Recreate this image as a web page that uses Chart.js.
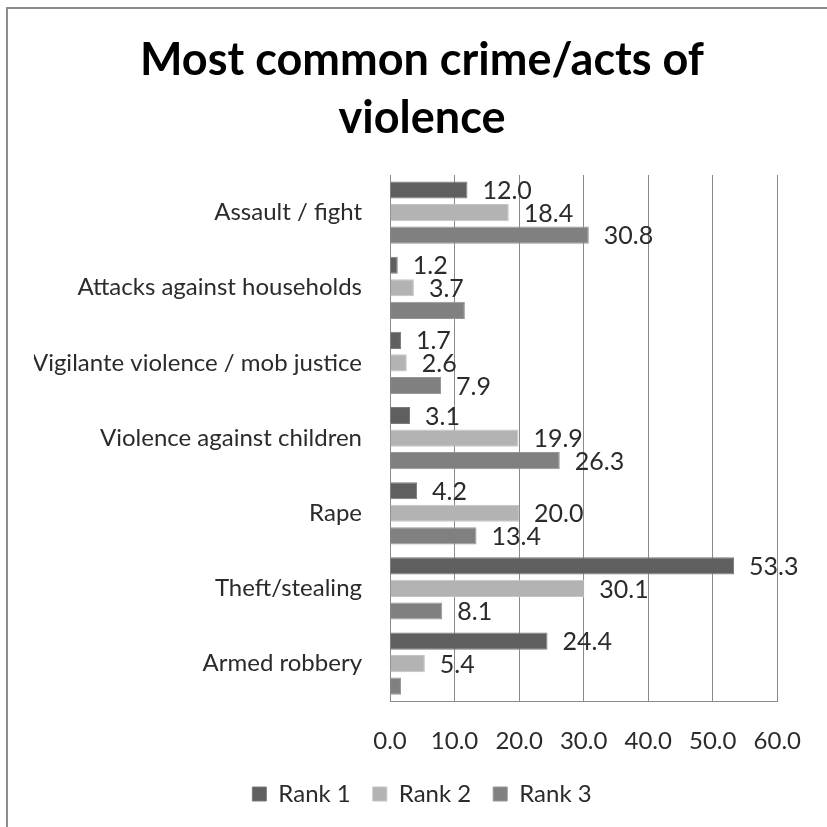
<!DOCTYPE html>
<html>
<head>
<meta charset="utf-8">
<script src="https://cdn.jsdelivr.net/npm/chart.js@4/dist/chart.umd.min.js"></script>
<style>
  html, body { margin: 0; padding: 0; background: #fff; }
  #wrap { width: 827px; height: 827px; }
</style>
</head>
<body>
<div id="wrap"><canvas id="myChart" width="827" height="827"></canvas></div>
<script>
// Data
const categories = [
  'Assault / fight',
  'Attacks against households',
  'Vigilante violence / mob justice',
  'Violence against children',
  'Rape',
  'Theft/stealing',
  'Armed robbery'
];
const rank1 = [12.0, 1.2, 1.7, 3.1, 4.2, 53.3, 24.4];
const rank2 = [18.4, 3.7, 2.6, 19.9, 20.0, 30.1, 5.4];
const rank3 = [30.8, 11.6, 7.9, 26.3, 13.4, 8.1, 1.7];
const seriesNames = ['Rank 1', 'Rank 2', 'Rank 3'];
const xTicks = [0, 10, 20, 30, 40, 50, 60];
// labels not shown in the original: [series, category]
const hiddenLabels = [[2, 1], [2, 6]];

const FONT = 'Lato, "Open Sans", sans-serif';

// Excel-style value labels at the end of each bar
const valueLabels = {
  id: 'valueLabels',
  afterDatasetsDraw(chart) {
    const c = chart.ctx;
    c.save();
    c.font = '25px ' + FONT;
    c.fillStyle = '#2b2b2b';
    c.textBaseline = 'middle';
    c.textAlign = 'left';
    chart.data.datasets.forEach((ds, di) => {
      chart.getDatasetMeta(di).data.forEach((bar, i) => {
        if (hiddenLabels.some(h => h[0] === di && h[1] === i)) return;
        c.fillText(ds.data[i].toFixed(1), bar.x + 15, bar.y + 1);
      });
    });
    c.restore();
  }
};

// grey frame on the left and top edge
const frame = {
  id: 'frame',
  beforeDraw(chart) {
    const c = chart.ctx;
    c.save();
    c.strokeStyle = '#8c8c8c';
    c.lineWidth = 2;
    c.beginPath();
    c.moveTo(7, 827);
    c.lineTo(7, 8);
    c.lineTo(827, 8);
    c.stroke();
    c.restore();
  }
};

const ctx = document.getElementById('myChart').getContext('2d');
const chart = new Chart(ctx, {
  type: 'bar',
  data: {
    labels: categories,
    datasets: [
      { label: seriesNames[0], data: rank1, backgroundColor: '#5f5f5f', borderColor: '#7a7a7a', borderWidth: 1 },
      { label: seriesNames[1], data: rank2, backgroundColor: '#b3b3b3', borderColor: '#c4c4c4', borderWidth: 1 },
      { label: seriesNames[2], data: rank3, backgroundColor: '#808080', borderColor: '#979797', borderWidth: 1 }
    ]
  },
  options: {
    indexAxis: 'y',
    responsive: false,
    animation: false,
    layout: { padding: { left: 34, right: 17, top: 23, bottom: 11 } },
    datasets: { bar: { categoryPercentage: 0.9, barPercentage: 0.76 } },
    scales: {
      x: {
        min: 0,
        max: 60,
        afterBuildTicks: axis => { axis.ticks = xTicks.map(v => ({ value: v })); },
        afterFit: axis => { axis.height -= 22; },
        ticks: {
          font: { family: FONT, size: 24 },
          color: '#2b2b2b',
          padding: 26,
          callback: v => Number(v).toFixed(1)
        },
        grid: { color: '#8a8a8a', lineWidth: 1, drawTicks: false },
        border: { color: '#8a8a8a', width: 1 }
      },
      y: {
        afterFit: axis => { axis.width = 356; },
        ticks: {
          font: { family: FONT, size: 24 },
          color: '#2b2b2b',
          padding: 28
        },
        grid: { display: false, drawTicks: false },
        border: { color: '#8a8a8a', width: 1 }
      }
    },
    plugins: {
      title: {
        display: true,
        text: ['Most common crime/acts of', 'violence'],
        font: { family: FONT, size: 45, weight: 'bold', lineHeight: 1.3 },
        color: '#000',
        padding: { top: 8, bottom: 27 }
      },
      legend: {
        position: 'bottom',
        labels: {
          font: { family: FONT, size: 24 },
          color: '#2b2b2b',
          boxWidth: 14,
          boxHeight: 14,
          padding: 22,
          useBorderRadius: false
        }
      },
      tooltip: { enabled: false }
    }
  },
  plugins: [valueLabels, frame]
});
</script>
</body>
</html>
